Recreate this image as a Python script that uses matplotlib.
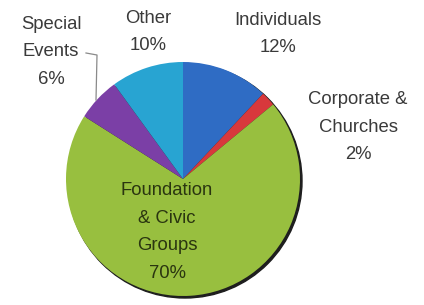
import matplotlib.pyplot as plt
from matplotlib.patches import Circle

labels = ["Individuals\n12%", "Corporate &\nChurches\n2%", "Foundation\n& Civic\nGroups\n70%",
          "Special\nEvents\n6%", "Other\n10%"]
shares = [12, 2, 70, 6, 10]
colors = ["#2f6cc4", "#d8383c", "#98bf3f", "#7b3fa6", "#28a4d2"]

plt.rcParams['font.family'] = ['Liberation Sans', 'DejaVu Sans']

fig = plt.figure(figsize=(4.24, 3.05), dpi=100)
ax = fig.add_axes([0, 0, 1, 1])

# soft dark rim on the lower right
ax.add_patch(Circle((185, 124), 117, color="#1e1e1e", zorder=0))
ax.pie(shares, colors=colors, startangle=90, counterclock=False,
       center=(183, 126), radius=117, wedgeprops=dict(linewidth=0))

ax.set_xlim(0, 424)
ax.set_ylim(0, 305)
ax.set_aspect("equal")
ax.axis("off")

fs = 13.3
ls = 1.8
txt = "#3a3a3a"
ax.text(278, 305 - 34, labels[0], ha="center", va="center", fontsize=fs, color=txt, linespacing=ls)
ax.text(358, 305 - 127, labels[1], ha="center", va="center", fontsize=fs, color=txt, linespacing=ls)
ax.text(167, 305 - 232, labels[2], ha="center", va="center", fontsize=fs, color="#2a3510", linespacing=ls)
ax.text(51, 305 - 52, labels[3], ha="center", va="center", fontsize=fs, color=txt, linespacing=ls)
ax.text(148, 305 - 32, labels[4], ha="center", va="center", fontsize=fs, color=txt, linespacing=ls)

# leader line for Special Events
ax.plot([86, 97, 96], [305 - 53, 305 - 55, 305 - 100], color="#8a8a8a", lw=0.9)

fig.savefig("out.png", dpi=100)
